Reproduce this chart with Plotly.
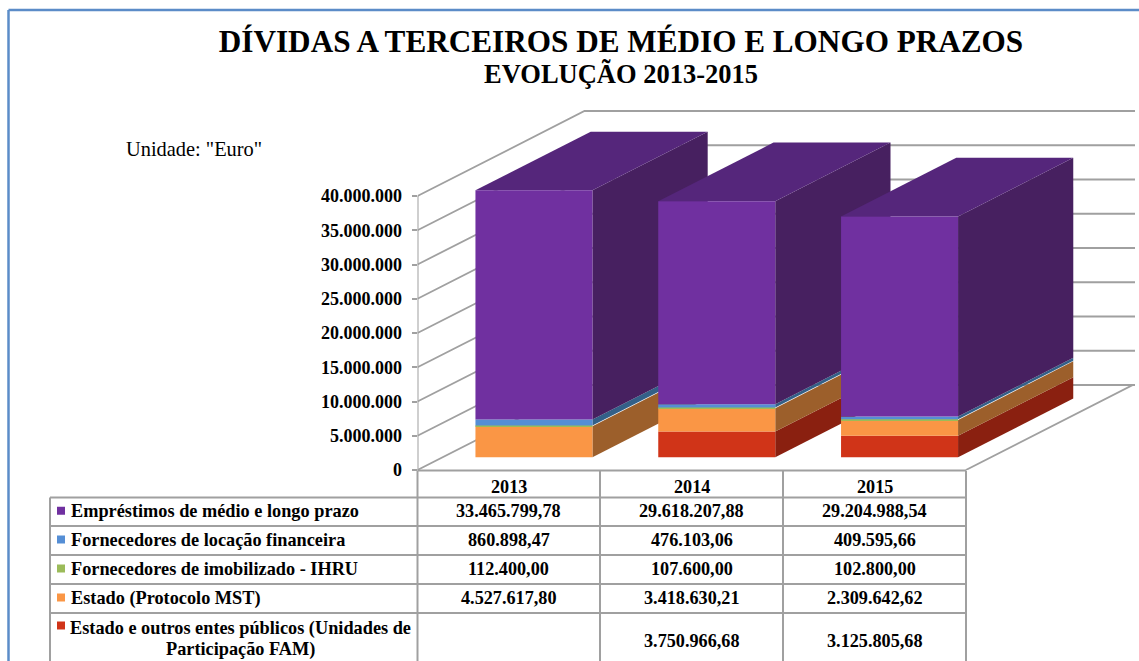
import plotly.graph_objects as go

W, H = 1139, 661
years = ["2013", "2014", "2015"]
series = ["Estado e outros entes públicos (Unidades de<br>Participação FAM)",
          "Estado (Protocolo MST)",
          "Fornecedores de imobilizado - IHRU",
          "Fornecedores de locação financeira",
          "Empréstimos de médio e longo prazo"]
estado_outros = [None, 3750966.68, 3125805.68]
estado_mst = [4527617.80, 3418630.21, 2309642.62]
ihru = [112400.00, 107600.00, 102800.00]
locacao = [860898.47, 476103.06, 409595.66]
emprestimos = [33465799.78, 29618207.88, 29204988.54]
values = [estado_outros, estado_mst, ihru, locacao, emprestimos]
front_colors = ["#D03418", "#FA9645", "#9BBB59", "#558ED5", "#7030A0"]
side_colors = ["#8A2010", "#9C5F2B", "#5F7336", "#336088", "#472060"]
top_color = "#55267B"
tick_vals = [0, 5e6, 10e6, 15e6, 20e6, 25e6, 30e6, 35e6, 40e6]
tick_text = ["0", "5.000.000", "10.000.000", "15.000.000", "20.000.000",
             "25.000.000", "30.000.000", "35.000.000", "40.000.000"]

FONT = "Liberation Serif"
GRID = "#A0A0A0"
# plot frame, in window pixels
L, R, B, T = 417.5, 1135, 470, 100
CAT_PX = 182.8
VAL_PX = 274 / 40e6
DEPTH_PX_X, DEPTH_PX_Y = 167, 85
x_range = [-0.5, -0.5 + (R - L) / CAT_PX]
y_range = [0, (B - T) / VAL_PX]
DX = DEPTH_PX_X / CAT_PX
DY = DEPTH_PX_Y / VAL_PX
D_FRONT, D_BACK = 0.15, 0.84
BAR_W = 117 / CAT_PX


def fmt(v):
    if v is None:
        return ""
    return f"{v:,.2f}".replace(",", "§").replace(".", ",").replace("§", ".")


fig = go.Figure()


def poly(xs, ys, color):
    fig.add_trace(go.Scatter(x=xs, y=ys, mode="lines", fill="toself", fillcolor=color,
                             line=dict(width=0, color=color), hoverinfo="skip", showlegend=False))


# walls and floor
x0 = x_range[0]
x1 = x_range[1]
grid_x, grid_y = [], []
for v in tick_vals:
    grid_x += [x0, x0 + DX, x1, None]
    grid_y += [v, v + DY, v + DY, None]
fig.add_trace(go.Scatter(x=grid_x, y=grid_y, mode="lines", line=dict(color=GRID, width=1.8),
                         hoverinfo="skip", showlegend=False))
fig.add_trace(go.Scatter(x=[2.5, 2.5 + DX, x1], y=[0, DY, DY], mode="lines",
                         line=dict(color=GRID, width=1.8), hoverinfo="skip", showlegend=False))
fig.add_trace(go.Scatter(x=[x0, x0], y=[0, 40e6], mode="lines", line=dict(color=GRID, width=2),
                         hoverinfo="skip", showlegend=False))

# side and top faces, left to right, from the stacked data
for i in range(len(years)):
    base = D_FRONT * DY
    xr = i + BAR_W / 2 + D_FRONT * DX
    ddx = (D_BACK - D_FRONT) * DX
    ddy = (D_BACK - D_FRONT) * DY
    for s, vals in enumerate(values):
        v = vals[i] or 0
        if v:
            poly([xr, xr + ddx, xr + ddx, xr, xr],
                 [base, base + ddy, base + v + ddy, base + v, base], side_colors[s])
        base += v
    poly([xr - BAR_W, xr, xr + ddx, xr + ddx - BAR_W, xr - BAR_W],
         [base, base, base + ddy, base + ddy, base], top_color)

# front faces: real stacked bars on an overlaid pair of axes
bar_x = [i + D_FRONT * DX for i in range(len(years))]
cum = [D_FRONT * DY] * len(years)
for s, vals in enumerate(values):
    fig.add_trace(go.Bar(x=bar_x, y=vals, base=cum[:], width=BAR_W, name=series[s].replace("<br>", " "),
                         marker=dict(color=front_colors[s], line=dict(width=0)),
                         xaxis="x2", yaxis="y2", showlegend=False))
    cum = [c + (v or 0) for c, v in zip(cum, vals)]

# data table
col_x = [50, 417.5, 600, 783, 966]
row_y = [470.5, 497.5, 526, 555, 584, 613, 667]
LINE = "#A0A0A0"
shapes = []


def px(x):
    return x / W


def py(y):
    return 1 - y / H


def seg(xa, ya, xb, yb, color=LINE, width=2):
    shapes.append(dict(type="line", xref="paper", yref="paper", x0=px(xa), x1=px(xb),
                       y0=py(ya), y1=py(yb), line=dict(color=color, width=width)))


seg(col_x[1], row_y[0], col_x[4], row_y[0])
for y in row_y[1:]:
    seg(col_x[0], y, col_x[4], y)
seg(col_x[0], row_y[1], col_x[0], row_y[-1])
for x in col_x[1:]:
    seg(x, row_y[0], x, row_y[-1])

# window frame
seg(8.5, 10, 1139, 10, "#5B8CC8", 2.5)
seg(8.5, 10, 8.5, 661, "#5B8CC8", 2.5)

annots = []


def text(x, y, s, size, bold=True, anchor="center"):
    annots.append(dict(xref="paper", yref="paper", x=px(x), y=py(y), text=f"<b>{s}</b>" if bold else s,
                       showarrow=False, xanchor=anchor, yanchor="middle",
                       font=dict(family=FONT, size=size, color="#000000"), align="center"))


LABEL_SIZE, VALUE_SIZE = 18.3, 18.2
for j, yr in enumerate(years):
    text((col_x[j + 1] + col_x[j + 2]) / 2, 487, yr, VALUE_SIZE)

for r, s in enumerate(reversed(range(len(series)))):
    cy = (row_y[r + 1] + row_y[r + 2]) / 2
    label = series[s]
    if s == 0:
        line1, line2 = label.split("<br>")
        cy = 641.5
        swatch_y = 626
        text(240.5, 628, line1, LABEL_SIZE)
        text(240.5, 649, line2, LABEL_SIZE)
    else:
        swatch_y = cy - 0.5
        text(69, cy - 0.5, label, LABEL_SIZE, anchor="left")
    shapes.append(dict(type="rect", xref="paper", yref="paper", x0=px(57), x1=px(65),
                       y0=py(swatch_y - 4.5), y1=py(swatch_y + 3.5),
                       fillcolor=front_colors[s], line=dict(width=0)))
    for j in range(len(years)):
        text((col_x[j + 1] + col_x[j + 2]) / 2, cy - 0.5, fmt(values[s][j]), VALUE_SIZE)

text(621, 74, "EVOLUÇÃO 2013-2015", 26.5)
text(194, 149, 'Unidade: "Euro"', 20.4, bold=False)

fig.update_layout(
    width=W, height=H, autosize=False,
    margin=dict(l=0, r=0, t=0, b=0, pad=0, autoexpand=False),
    paper_bgcolor="white", plot_bgcolor="white",
    barmode="overlay", showlegend=False,
    title=dict(text="<b>DÍVIDAS A TERCEIROS DE MÉDIO E LONGO PRAZOS</b>", x=621 / W, xanchor="center",
               y=py(41), yanchor="middle", font=dict(family=FONT, size=31.2, color="#000000")),
    xaxis=dict(domain=[L / W, R / W], range=x_range, visible=False),
    yaxis=dict(domain=[1 - B / H, 1 - T / H], range=y_range, tickvals=tick_vals,
               ticktext=[f"<b>{t}</b>" for t in tick_text],
               showgrid=False, zeroline=False, showline=False, ticks="outside", ticklen=5,
               tickcolor=GRID, tickwidth=2, ticklabelstandoff=6,
               tickfont=dict(family=FONT, size=18, color="#000000")),
    xaxis2=dict(domain=[L / W, R / W], range=x_range, overlaying="x", visible=False),
    yaxis2=dict(domain=[1 - B / H, 1 - T / H], range=y_range, overlaying="y", visible=False),
    shapes=shapes, annotations=annots,
)
fig.write_html("out.html", config=dict(displayModeBar=False),
               post_script="document.body.style.margin='0';document.documentElement.style.overflow='hidden';")
